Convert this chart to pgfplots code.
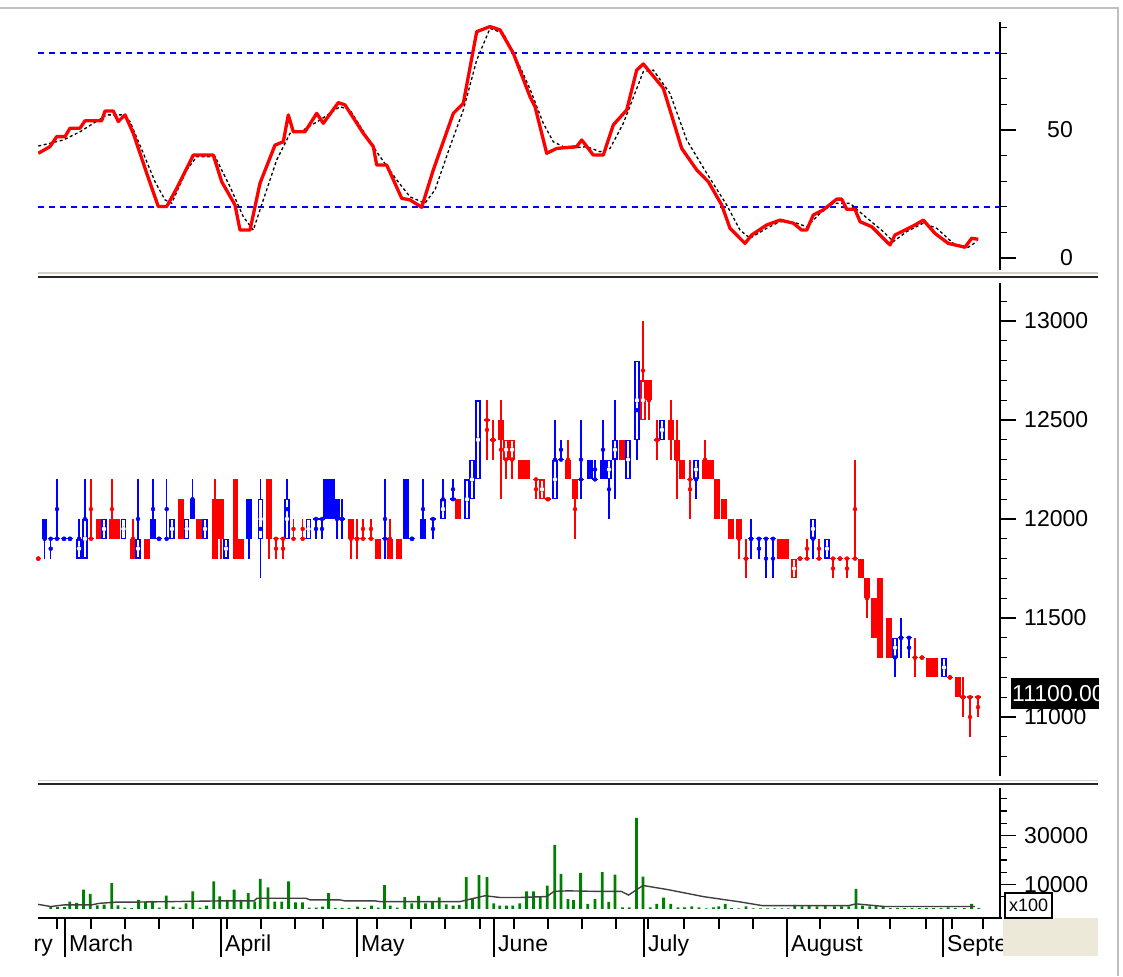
\documentclass[border=0pt]{standalone}
\usepackage{pgfplots}
\pgfplotsset{compat=1.18}
\usepackage{pgfplotstable}
\usepackage{fontspec}
\setmainfont{Liberation Sans}
\definecolor{beige}{HTML}{ECE9D8}
\definecolor{vgreen}{HTML}{008000}
\definecolor{magray}{HTML}{404040}
\definecolor{framegray}{HTML}{C0C0C0}
\definecolor{sepgray}{HTML}{D4D0C8}
\definecolor{pblue}{HTML}{0000FF}
\definecolor{pred}{HTML}{FF0000}

% ---------- candles: x, body top, body bottom, high, low ----------
\pgfplotstableread{
x bt bb h l
99 12000 11900 12000 11900
112 12000 11900 12200 11900
117 12000 11900 12000 11900
133 11900 11800 12000 11800
147 11900 11800 11900 11800
181 12100 11900 12100 11900
199 12000 11900 12000 11900
215 12100 11800 12200 11800
221 12100 11900 12100 11800
235.5 12200 11800 12200 11800
241 11900 11800 11900 11800
269 12200 11900 12200 11800
351 12000 11900 12000 11800
378 11900 11800 11900 11800
390 11900 11800 12000 11800
399 11900 11800 11900 11800
458 12100 12000 12100 12000
501 12500 12400 12600 12100
521 12300 12200 12300 12200
527 12300 12200 12300 12200
568 12300 12200 12400 12200
575 12200 12100 12200 11900
622 12400 12300 12400 12300
649 12700 12600 12700 12500
671 12500 12400 12600 12300
677 12400 12300 12500 12100
682 12300 12200 12300 12200
705 12300 12200 12400 12200
711 12300 12200 12300 12200
717 12200 12000 12200 12000
724 12100 12000 12100 12000
731 12000 11900 12000 11900
739 12000 11900 12000 11800
780 11900 11800 11900 11800
786 11900 11800 11900 11800
861 11800 11700 11800 11700
867 11700 11600 11700 11500
874 11600 11400 11600 11400
880 11700 11300 11700 11300
889 11500 11300 11500 11300
929 11300 11200 11300 11200
935 11300 11200 11300 11200
958 11200 11100 11200 11100
}\redfilled

\pgfplotstableread{
x bt bb h l
506 12400 12300 12400 12200
512 12400 12300 12400 12200
542 12200 12100 12200 12100
643 12700 12500 13000 12500
794 11800 11700 11800 11700
}\redhollow

\pgfplotstableread{
x bt bb h l
44.7 12000 11900 12000 11800
153 12000 11900 12200 11900
192.5 12100 12000 12200 12000
249 12100 11900 12100 11800
326 12200 12000 12200 12000
332 12200 12000 12200 12000
337 12100 12000 12100 11900
406 12200 11900 12200 11900
423 12000 11900 12200 11900
590 12300 12200 12300 12200
603 12300 12200 12500 12200
}\bluefilled

\pgfplotstableread{
x bt bb h l
79 11900 11800 12000 11800
85 12000 11800 12200 11800
104 12000 11900 12000 11900
123.5 12000 11900 12000 11900
138 11900 11800 12200 11800
172 12000 11900 12000 11900
186.7 12000 11900 12000 11900
205 12000 11900 12000 11900
226 11900 11800 11900 11800
260.7 12100 11900 12200 11700
287 12100 11900 12200 11900
308.5 12000 11900 12000 11900
443 12100 12000 12200 12000
467 12200 12000 12200 12000
472 12300 12100 12300 12100
478 12600 12200 12600 12200
555 12300 12100 12500 12100
609 12300 12200 12300 12000
615 12400 12300 12600 12100
628 12400 12200 12400 12200
637 12800 12400 12800 12300
662 12500 12400 12500 12400
696 12300 12200 12300 12100
813 12000 11900 12000 11800
827 11900 11800 11900 11800
895 11400 11300 11400 11200
944 11300 11200 11300 11200
}\bluehollow

% ---------- doji: x, close, high, low ----------
\pgfplotstableread{
x c h l
38.3 11800 11800 11800
91 11900 12200 11900
276 11900 11900 11800
283 11900 11900 11800
293.5 11900 12000 11900
302.7 11900 12000 11900
357 11900 12000 11800
363 11900 12000 11900
371 11900 12000 11900
487 12500 12600 12300
493 12400 12500 12300
536 12200 12200 12100
548 12100 12100 12100
657 12400 12500 12300
690 12200 12300 12000
746 11800 11900 11700
800 11800 11800 11800
807 11800 11900 11800
819 11800 11900 11800
833 11800 11800 11700
840 11800 11800 11800
847 11800 11800 11700
855 11800 12300 11800
915 11300 11400 11200
922 11300 11300 11300
950 11200 11200 11200
963 11100 11200 11000
970 11100 11100 10900
978 11100 11100 11000
}\reddoji

\pgfplotstableread{
x c h l
50.7 11900 11900 11800
57 11900 12200 11900
64 11900 11900 11900
70 11900 11900 11900
159 11900 11900 11900
166.7 11900 12200 11900
316 12000 12000 11900
322 12000 12000 11900
342 12000 12100 11900
385 11900 12200 11800
412 11900 11900 11900
433 12000 12000 11900
453 12100 12200 12100
561 12300 12400 12300
581 12200 12500 12100
595 12200 12300 12200
751 11900 12000 11800
759 11900 11900 11800
766 11900 11900 11700
773 11900 11900 11700
901 11400 11500 11300
909 11400 11400 11300
}\bluedoji

% ---------- volume ----------
\pgfplotstableread{
x v
50.7 800
57.6 800
64.5 800
69.7 3000
76.6 2500
83.4 7900
90.3 6200
97.2 1500
104.1 1800
111.7 10600
117.9 1500
124.8 600
131.7 400
138.6 3700
145.5 3000
152.4 3300
159.3 600
166.2 5500
173.1 1000
180 600
185.9 2300
192.8 7200
200 600
206.6 1400
213.8 11300
219.7 5100
227.2 3700
234.1 7900
241 3700
248.3 6500
254.8 3000
260.3 12300
267.9 8800
274.8 3000
281.7 3000
288.6 11300
295.5 2700
302.4 2700
309.3 600
316.2 600
322.4 1000
328.6 6500
335.2 500
342.1 500
349 500
357.6 1000
364.5 500
371.4 1400
378.3 600
384.5 9700
390.3 1400
397.2 600
404.8 4800
411.7 2300
418.6 5400
425.5 2300
432.4 3000
439.3 4700
446.2 1900
453.1 1400
459.3 1700
466.2 13000
472.4 4400
479 13800
486.9 13000
493.8 2300
499.7 1400
506.6 1400
512.8 1400
519.7 2300
526.6 7200
533.4 7200
540.3 5100
547.2 9500
554.8 26200
561 14300
568 4000
573.4 3600
580.6 14700
587.8 2100
595 4000
602.2 15000
608.7 2900
614.9 14000
622.5 700
629.3 700
636.5 37200
643 13200
650.3 700
656.8 2100
663.6 4600
670.8 2100
678 700
684.5 700
691.8 1100
699 700
706.2 300
713.4 700
718.8 1100
725.3 2100
731.5 400
738.7 300
745.9 1100
753.1 300
760.4 300
767.6 300
774.8 300
782 300
788.2 300
794.7 1700
801.9 1100
809.1 1400
817 1100
825.3 1400
834.4 1100
841.6 1100
848.8 1100
856 8200
862.5 1400
869.7 1100
875.9 1400
883.1 1100
890.3 400
897.5 400
904.8 400
912 400
919.2 400
926.4 400
933.6 400
940.9 400
948.1 700
955.3 400
964.3 400
971.6 2100
978.8 400
}\vol

\pgfplotsset{
  panel/.style={scale only axis, width=962pt, xmin=38, xmax=1000,
    axis x line=none, axis y line*=right, xtick=\empty,
    scaled y ticks=false, scaled x ticks=false,
    axis line style={line width=1.4pt, black},
    tick style={line width=1.2pt, black}, tick align=outside,
    major tick length=16pt, minor tick length=7pt,
    yticklabels={}, clip=true},
  cbar/.style 2 args={only marks, mark=none, error bars/.cd, y dir=both, y explicit,
    error mark=none, error bar style={line width=#1, draw=#2, line cap=butt}},
  dbar/.style={only marks, mark=none, error bars/.cd, x dir=both, x fixed=2.9,
    error mark=none, error bar style={line width=1.4pt, draw=#1, line cap=butt}},
}

\begin{document}
\begin{tikzpicture}
\fill[white] (0pt,0pt) rectangle (1123pt,976pt);
\useasboundingbox (0pt,0pt) rectangle (1123pt,976pt);

% ===================== top panel: stochastic =====================
\begin{axis}[panel, at={(38pt,706pt)}, anchor=south west, height=248pt,
  ymin=-4.69, ymax=92.19, ytick={0,50}, minor ytick={10,20,30,40,60,70,80,90}]
\addplot[draw=pblue, line width=1.7pt, dash pattern=on 6pt off 5pt] coordinates {(38,80) (1000,80)};
\addplot[draw=pblue, line width=1.7pt, dash pattern=on 6pt off 5pt] coordinates {(38,20) (1000,20)};
\addplot[black, line width=1.3pt, dash pattern=on 3pt off 2.5pt] coordinates {
(38.3,43.7) (63.3,46.1) (80,49.3) (93.3,52.6) (106.7,55.9) (121.7,55.9) (130,53.3)
(143.3,40.9) (155,29.8) (165,22.7) (171.7,21.4) (186.7,34.4) (196.7,39.6) (215,39.6)
(230,27.9) (243.3,16.1) (253.3,10.9) (263.3,22.7) (276.7,38.3) (290,48.7) (303.3,50)
(320,53.9) (340,59.1) (350,57.8) (366.7,47.4) (380,39.6) (396.7,30.5) (410,23.9)
(425,21.4) (435,26.6) (450,43.5) (463.3,57.8) (476.7,77.3) (490,89.7) (503.3,87.8)
(520,74.7) (530,66) (543.3,52.6) (553.3,45.4) (566.7,42.8) (586.7,43.5) (600,41.5)
(610,42.8) (623.3,52.6) (643.3,72.8) (653.3,73.4) (670,64.3) (686.7,46.1) (706.7,33.1)
(726.7,20.7) (740,10.9) (750,7.7) (766.7,11.6) (780,14.2) (796.7,13.6) (806.7,12.2)
(820,17.4) (833.3,21.4) (850,21.4) (863.3,16.8) (883.3,10.3) (893.3,6.4) (906.7,10.3)
(923.3,13.6) (936.7,11.6) (953.3,5.7) (966.7,3.8) (976.7,6.4)};
\addplot[draw=pred, line width=3.3pt, line join=round] coordinates {
(38.3,40.9) (50,43.5) (56.7,47.4) (65,47.4) (70,50.7) (80,50.7) (85,53.6) (101.7,53.6)
(105,57.4) (113.3,57.4) (118.3,53.3) (125,55.9) (133.3,48.7) (146.7,33.1) (158.3,20.1)
(166.7,20.1) (176.7,27.2) (193.3,40.2) (213.3,40.2) (221.7,29.8) (235,20.7) (240,10.9)
(250,10.9) (260,29.2) (275,44.1) (283.3,45.4) (288.3,55.9) (293.3,49.3) (305,49.3)
(316.7,56.5) (323.3,52.6) (338.3,60.7) (345,59.8) (363.3,48.7) (373.3,43.5) (376.7,36.3)
(386.7,36.3) (401.7,23.3) (410,22.7) (421.7,19.8) (433.3,34.4) (453.3,56.5) (463.3,60.4)
(476.7,88.4) (490,90.4) (500,89.1) (513.3,80.0) (530,63.0) (535,59.1) (546.7,40.9)
(556.7,42.8) (576.7,43.5) (581.7,46.1) (593.3,40.2) (603.3,40.2) (613.3,52.0) (626.7,57.8)
(636.7,73.4) (643.3,75.8) (663.3,66.3) (681.7,42.8) (696.7,34.4) (708.3,29.8) (721.7,20.7)
(730,11.6) (745,5.7) (751.7,9.0) (766.7,12.9) (780,14.8) (793.3,13.6) (801.7,10.9)
(806.7,10.9) (813.3,16.8) (823.3,18.8) (836.7,23.0) (841.7,23.0) (846.7,19.0) (855,19.0)
(860,14.2) (871.7,12.2) (890,5.1) (895,9.0) (905,10.9) (915,12.9) (923.3,14.8) (935,9.6)
(948.3,5.7) (965,4.2) (971.7,7.7) (978.3,7.3)};
\end{axis}

% ===================== middle panel: candles =====================
\begin{axis}[panel, at={(38pt,200pt)}, anchor=south west, height=493pt,
  ymin=10702, ymax=13192, ytick={11000,11500,12000,12500,13000},
  minor ytick={10800,10900,11100,11200,11300,11400,11600,11700,11800,11900,12100,12200,12300,12400,12600,12700,12800,12900,13100}]
% wicks
\addplot[red, cbar={1.4pt}{pred}] table[x=x, y expr={(\thisrow{h}+\thisrow{l})/2}, y error expr={(\thisrow{h}-\thisrow{l})/2}]{\redfilled};
\addplot[red, cbar={1.4pt}{pred}] table[x=x, y expr={(\thisrow{h}+\thisrow{l})/2}, y error expr={(\thisrow{h}-\thisrow{l})/2}]{\redhollow};
\addplot[red, cbar={1.4pt}{pred}] table[x=x, y expr={(\thisrow{h}+\thisrow{l})/2}, y error expr={(\thisrow{h}-\thisrow{l})/2}]{\reddoji};
\addplot[blue, cbar={1.4pt}{pblue}] table[x=x, y expr={(\thisrow{h}+\thisrow{l})/2}, y error expr={(\thisrow{h}-\thisrow{l})/2}]{\bluefilled};
\addplot[blue, cbar={1.4pt}{pblue}] table[x=x, y expr={(\thisrow{h}+\thisrow{l})/2}, y error expr={(\thisrow{h}-\thisrow{l})/2}]{\bluehollow};
\addplot[blue, cbar={1.4pt}{pblue}] table[x=x, y expr={(\thisrow{h}+\thisrow{l})/2}, y error expr={(\thisrow{h}-\thisrow{l})/2}]{\bluedoji};
% bodies
\addplot[red, cbar={5.4pt}{pred}] table[x=x, y expr={(\thisrow{bt}+\thisrow{bb})/2}, y error expr={(\thisrow{bt}-\thisrow{bb})/2}]{\redfilled};
\addplot[blue, cbar={5.4pt}{pblue}] table[x=x, y expr={(\thisrow{bt}+\thisrow{bb})/2}, y error expr={(\thisrow{bt}-\thisrow{bb})/2}]{\bluefilled};
\addplot[red, cbar={5.4pt}{pred}] table[x=x, y expr={(\thisrow{bt}+\thisrow{bb})/2}, y error expr={(\thisrow{bt}-\thisrow{bb})/2}]{\redhollow};
\addplot[blue, cbar={5.4pt}{pblue}] table[x=x, y expr={(\thisrow{bt}+\thisrow{bb})/2}, y error expr={(\thisrow{bt}-\thisrow{bb})/2}]{\bluehollow};
\addplot[white, cbar={2.8pt}{white}] table[x=x, y expr={(\thisrow{bt}+\thisrow{bb})/2}, y error expr={(\thisrow{bt}-\thisrow{bb})/2-6.5}]{\redhollow};
\addplot[white, cbar={2.8pt}{white}] table[x=x, y expr={(\thisrow{bt}+\thisrow{bb})/2}, y error expr={(\thisrow{bt}-\thisrow{bb})/2-6.5}]{\bluehollow};
% doji (open = close): horizontal strokes
\addplot[red, dbar=pred] table[x=x, y=c]{\reddoji};
\addplot[blue, dbar=pblue] table[x=x, y=c]{\bluedoji};
\end{axis}

% ===================== bottom panel: volume =====================
\begin{axis}[panel, at={(38pt,58pt)}, anchor=south west, height=130pt,
  ymin=-3672, ymax=49368, ytick={10000,30000},
  minor ytick={5000,15000,20000,25000,35000,40000,45000}]
\addplot[ybar, bar width=2.8pt, fill=vgreen, draw=none] table[x=x, y=v]{\vol};
\addplot[magray, line width=1.4pt] coordinates {
(38,1900) (50.7,1000) (64.5,1700) (92,1700) (99,2300) (116,2800) (133,2800) (220,3300)
(254,3300) (257,4400) (306,4400) (310,3700) (340,3700) (345,3300) (375,3300) (380,3000)
(460,3000) (471,4100) (485,5400) (500,4700) (520,4700) (547,5100) (554,7200) (568,7400)
(596,7200) (621,7200) (628.6,5700) (643,9600) (668,7900) (704,5000) (740,2900) (762,1400)
(849,1400) (856,2100) (885,1000) (975,1000)};
\end{axis}

\begin{scope}[x=1pt, y=1pt]
\fontsize{23}{26}\selectfont
% frame
\draw[framegray, line width=1.5pt] (0,968) -- (1118,968) -- (1118,0);
% panel separators
\draw[sepgray, line width=1.5pt] (38,703) -- (1098,703);
\draw[black!85, line width=2.8pt] (38,699) -- (1098,699);
\draw[sepgray, line width=1.5pt] (38,195.5) -- (1098,195.5);
\draw[black!85, line width=2.8pt] (38,192) -- (1098,192);

% bottom time axis
\draw[black, line width=1.4pt] (38,58) -- (1002,58);
\foreach \t in {57,91,125,159,193,227,261,295,323,377,411,445,480,514,548,582,616,648,684,719,753,820,858,890,926,952,983}
  \draw[black, line width=1.2pt] (\t,58) -- (\t,47);
\foreach \t in {65,221,357,494,644,787,943}
  \draw[black, line width=1.2pt] (\t,58) -- (\t,19);
\node[anchor=base east, inner sep=0pt] at (53,24) {ry};
\node[anchor=base west, inner sep=0pt] at (69,24) {March};
\node[anchor=base west, inner sep=0pt] at (225,24) {April};
\node[anchor=base west, inner sep=0pt] at (361,24) {May};
\node[anchor=base west, inner sep=0pt] at (498,24) {June};
\node[anchor=base west, inner sep=0pt] at (648,24) {July};
\node[anchor=base west, inner sep=0pt] at (791,24) {August};
\begin{scope}
\clip (944,0) rectangle (1002,58);
\node[anchor=base west, inner sep=0pt] at (947,24) {September};
\end{scope}

% right-hand tick labels
\node[anchor=east, inner sep=0pt] at (1073,846) {50};
\node[anchor=east, inner sep=0pt] at (1073,718) {0};
\node[anchor=west, inner sep=0pt] at (1024,655) {13000};
\node[anchor=west, inner sep=0pt] at (1024,556) {12500};
\node[anchor=west, inner sep=0pt] at (1024,457) {12000};
\node[anchor=west, inner sep=0pt] at (1024,358) {11500};
\node[anchor=west, inner sep=0pt] at (1024,259) {11000};
\node[anchor=west, inner sep=0pt] at (1024,140.5) {30000};
\node[anchor=west, inner sep=0pt] at (1024,91.5) {10000};

% last price box
\begin{scope}
\clip (1011,267) rectangle (1099,298);
\fill[black] (1011,267) rectangle (1099,298);
\node[anchor=west, inner sep=0pt, white] at (1012,282.5) {11100.00};
\end{scope}

% x100 box and corner
\fill[beige] (1003,20) rectangle (1098,58);
\draw[black, line width=1.2pt, fill=white] (1005,58) rectangle (1052,83);
\node[inner sep=0pt, font=\fontsize{18}{20}\selectfont] at (1028.5,70.5) {x100};
\end{scope}
\end{tikzpicture}
\end{document}
